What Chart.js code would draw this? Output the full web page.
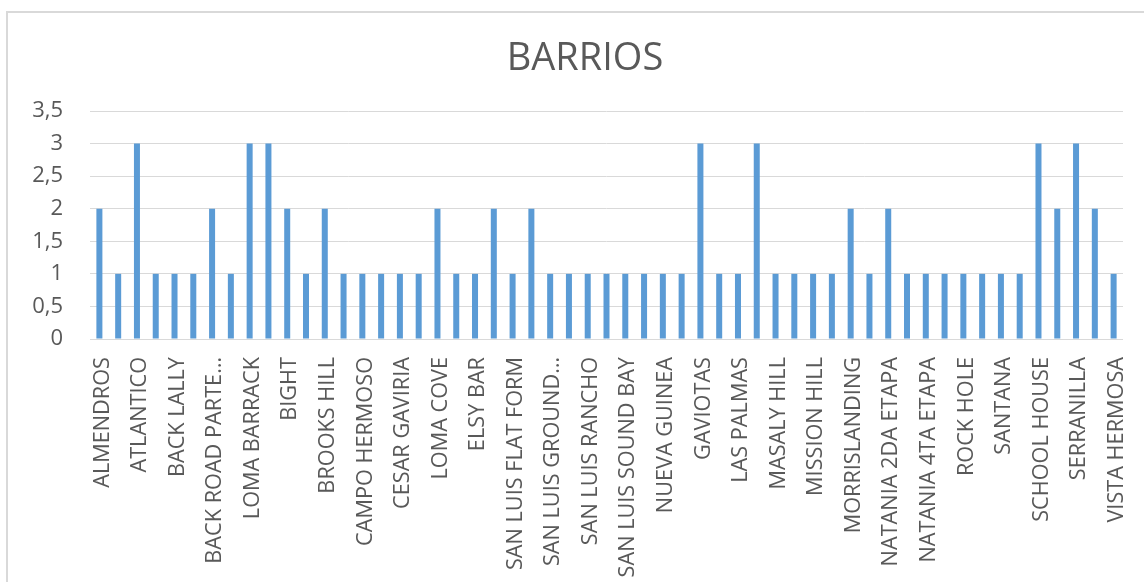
<!DOCTYPE html>
<html>
<head>
<meta charset="utf-8">
<script src="https://cdn.jsdelivr.net/npm/chart.js@4"></script>
<style>
  html, body { margin: 0; padding: 0; background: #fff; overflow: hidden; width: 1144px; height: 582px; }
  #frame { position: absolute; left: 6px; top: 11px; width: 1160px; height: 600px; border: 2px solid #d9d9d9; box-sizing: border-box; }
  #wrap { position: absolute; left: 0; top: 0; width: 1144px; height: 582px; }
</style>
</head>
<body>
<div id="frame"></div>
<div id="wrap"><canvas id="c" width="1144" height="582"></canvas></div>
<script>
const chartTitle = "BARRIOS";
const categories = [
  "ALMENDROS", "ARENAL", "ATLANTICO", "BACK HILL", "BACK LALLY", "BACK ROAD",
  "BACK ROAD PARTE ALTA", "BARRACK", "LOMA BARRACK", "BARKERS HILL", "BIGHT", "BOX POND",
  "BROOKS HILL", "BUENOS AIRES", "CAMPO HERMOSO", "CARIBE", "CESAR GAVIRIA", "COCOPLUM BAY",
  "LOMA COVE", "DUPPY GULLY", "ELSY BAR", "FLOWERS HILL", "SAN LUIS FLAT FORM", "SAN LUIS GOUGH",
  "SAN LUIS GROUND ROAD", "SAN LUIS ORANGE HILL", "SAN LUIS RANCHO", "SAN LUIS SHINGLE HILL",
  "SAN LUIS SOUND BAY", "NUEVO BOSQUE", "NUEVA GUINEA", "FLORIDA", "GAVIOTAS", "JUAN XXIII",
  "LAS PALMAS", "LITTLE HILL", "MASALY HILL", "MODELO", "MISSION HILL", "MOUNT ZION",
  "MORRISLANDING", "NATANIA", "NATANIA 2DA ETAPA", "NATANIA 3RA ETAPA", "NATANIA 4TA ETAPA",
  "ORANGE HILL", "ROCK HOLE", "SAGRADA FAMILIA", "SANTANA", "SARIE BAY", "SCHOOL HOUSE",
  "SEA SIDE", "SERRANILLA", "SWAMP GROUND", "VISTA HERMOSA"
];
const values = [
  2, 1, 3, 1, 1, 1, 2, 1, 3, 3, 2, 1, 2, 1, 1, 1, 1, 1, 2, 1,
  1, 2, 1, 2, 1, 1, 1, 1, 1, 1, 1, 1, 3, 1, 1, 3, 1, 1, 1, 1,
  2, 1, 2, 1, 1, 1, 1, 1, 1, 1, 3, 2, 3, 2, 1
];
const yTickMin = 0;
const yTickMax = 3.5;
const yTickStep = 0.5;

const textColor = "#595959";
const barColor = "#5b9bd5";
const gridColor = "#d9d9d9";

// centre the title over the span the reference uses
const titleShift = {
  id: "titleShift",
  afterLayout(chart) {
    if (chart.titleBlock) { chart.titleBlock.left += 21; }
  }
};

new Chart(document.getElementById("c"), {
  type: "bar",
  data: {
    labels: categories,
    datasets: [{
      label: chartTitle,
      data: values,
      backgroundColor: barColor,
      borderWidth: 0,
      barPercentage: 0.4,
      categoryPercentage: 0.8
    }]
  },
  plugins: [titleShift],
  options: {
    responsive: false,
    animation: false,
    devicePixelRatio: 1,
    layout: { padding: { left: 26, right: 21, top: 0, bottom: 0 } },
    plugins: {
      legend: { display: false },
      tooltip: { enabled: false },
      title: {
        display: true,
        text: chartTitle,
        color: textColor,
        font: { family: "'Open Sans'", size: 38, weight: "normal" },
        padding: { top: 36, bottom: 29.4 }
      }
    },
    scales: {
      x: {
        grid: { display: false, drawTicks: false },
        border: { display: false },
        ticks: {
          autoSkip: false,
          maxRotation: 90,
          minRotation: 90,
          padding: 18,
          labelOffset: 3,
          color: textColor,
          font: { family: "'Open Sans'", size: 21.7 },
          callback: function (v, i) {
            if (i % 2 !== 0) return "";
            const s = this.getLabelForValue(v);
            return s.length > 18 ? s.slice(0, 15) + "\u2026" : s;
          }
        },
        afterFit: function (scale) {
          scale.height = 243;
          scale.paddingLeft = 0;
          scale.paddingRight = 0;
        }
      },
      y: {
        min: yTickMin,
        max: yTickMax,
        grid: { color: gridColor, lineWidth: 1, drawTicks: false },
        border: { display: false },
        ticks: {
          stepSize: yTickStep,
          padding: 27,
          color: textColor,
          font: { family: "'Open Sans'", size: 22 },
          callback: function (v) { return String(v).replace(".", ","); }
        },
        afterFit: function (scale) { scale.width = 64; }
      }
    }
  }
});
</script>
</body>
</html>
